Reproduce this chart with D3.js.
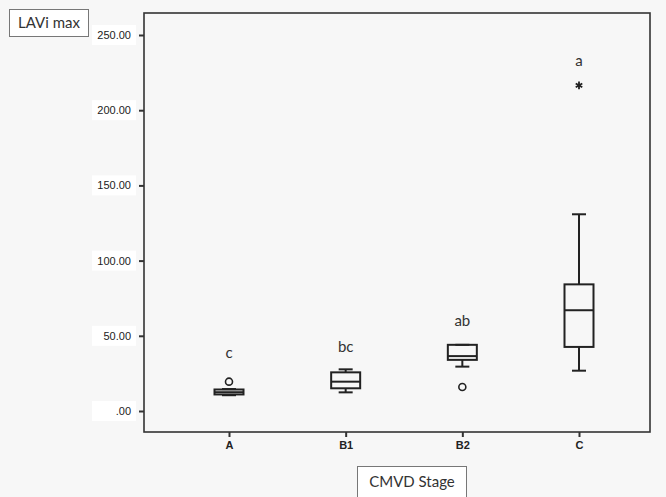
<!DOCTYPE html>
<html><head><meta charset="utf-8">
<script src="https://cdn.jsdelivr.net/npm/d3@7"></script>
<style>
html,body{margin:0;padding:0;background:#f7f7f7;}
svg{display:block;}
</style></head>
<body>
<svg id="chart" width="666" height="497"></svg>
<script>
// ---- data ----
const categories = ["A", "B1", "B2", "C"];
const whiskerLow  = [10.5, 12.4, 29.5, 26.8];
const q1Values    = [11.0, 15.1, 34.0, 42.6];
const medians     = [12.5, 19.5, 36.5, 67.0];
const q3Values    = [14.3, 25.7, 44.0, 84.2];
const whiskerHigh = [14.6, 27.7, 44.0, 130.8];
const outliers    = [{cat: "A", v: 19.5, type: "circle"}, {cat: "B2", v: 16.0, type: "circle"}, {cat: "C", v: 216.5, type: "star"}];
const groupLetters = ["c", "bc", "ab", "a"];
const letterValues = [37.5, 42, 59, 232];
const yTicks = [0, 50, 100, 150, 200, 250];
const yTickLabels = [".00", "50.00", "100.00", "150.00", "200.00", "250.00"];
const yTitle = "LAVi max";
const xTitle = "CMVD Stage";

// ---- layout ----
const svg = d3.select("#chart");
const frame = {left: 144, top: 13, right: 650, bottom: 432};
const y = d3.scaleLinear().domain([0, 250]).range([411, 35]);
const x = d3.scalePoint().domain(categories).range([frame.left + 85, frame.right - 71]);
const ink = "#222";
const boxW = 29, capW = 14;

// white patches behind y tick labels
svg.append("g").selectAll("rect").data(yTicks).join("rect")
  .attr("x", 92).attr("y", d => y(d) - 10).attr("width", 44).attr("height", 20)
  .attr("fill", "#ffffff");

// frame
svg.append("rect").attr("x", frame.left).attr("y", frame.top)
  .attr("width", frame.right - frame.left).attr("height", frame.bottom - frame.top)
  .attr("fill", "#f7f7f7").attr("stroke", "#333").attr("stroke-width", 1.6);

// y axis
const yAxis = d3.axisLeft(y).tickValues(yTicks).tickSize(5).tickPadding(8)
  .tickFormat((d, i) => yTickLabels[i]);
const gy = svg.append("g").attr("transform", `translate(${frame.left},0)`).call(yAxis);
gy.select(".domain").remove();
gy.selectAll(".tick line").attr("stroke", "#333").attr("stroke-width", 2);
gy.selectAll(".tick text").attr("fill", ink).style("font-family", "Arial, 'Liberation Sans', sans-serif").style("font-size", "11px");

// x axis
const xAxis = d3.axisBottom(x).tickSize(5).tickPadding(4);
const gx = svg.append("g").attr("transform", `translate(0,${frame.bottom})`).call(xAxis);
gx.select(".domain").remove();
gx.selectAll(".tick line").attr("stroke", "#333").attr("stroke-width", 2);
gx.selectAll(".tick text").attr("fill", ink).style("font-family", "Arial, 'Liberation Sans', sans-serif")
  .style("font-size", "11px").style("font-weight", "bold");

// boxes
const boxes = categories.map((c, i) => ({c, lo: whiskerLow[i], q1: q1Values[i], med: medians[i], q3: q3Values[i], hi: whiskerHigh[i]}));
const g = svg.append("g").attr("stroke", ink).attr("stroke-width", 2).attr("fill", "none");
const bg = g.selectAll("g").data(boxes).join("g");
bg.append("line").attr("x1", d => x(d.c)).attr("x2", d => x(d.c)).attr("y1", d => y(d.hi)).attr("y2", d => y(d.q3));
bg.append("line").attr("x1", d => x(d.c)).attr("x2", d => x(d.c)).attr("y1", d => y(d.q1)).attr("y2", d => y(d.lo));
bg.append("line").attr("x1", d => x(d.c) - capW/2).attr("x2", d => x(d.c) + capW/2).attr("y1", d => y(d.hi)).attr("y2", d => y(d.hi));
bg.append("line").attr("x1", d => x(d.c) - capW/2).attr("x2", d => x(d.c) + capW/2).attr("y1", d => y(d.lo)).attr("y2", d => y(d.lo));
bg.append("rect").attr("x", d => x(d.c) - boxW/2).attr("width", boxW)
  .attr("y", d => y(d.q3)).attr("height", d => y(d.q1) - y(d.q3));
bg.append("line").attr("x1", d => x(d.c) - boxW/2).attr("x2", d => x(d.c) + boxW/2).attr("y1", d => y(d.med)).attr("y2", d => y(d.med));

// outliers
svg.append("g").selectAll("circle").data(outliers.filter(o => o.type === "circle")).join("circle")
  .attr("cx", d => x(d.cat)).attr("cy", d => y(d.v)).attr("r", 3.5)
  .attr("fill", "none").attr("stroke", ink).attr("stroke-width", 1.6);
svg.append("g").selectAll("path").data(outliers.filter(o => o.type === "star")).join("path")
  .attr("transform", d => `translate(${x(d.cat)},${y(d.v)})`)
  .attr("d", d3.symbol(d3.symbolAsterisk, 40)).attr("stroke", ink).attr("stroke-width", 1.8).attr("fill", "none");

// group letters
svg.append("g").selectAll("text").data(categories).join("text")
  .attr("x", d => x(d)).attr("y", (d, i) => y(letterValues[i]))
  .attr("text-anchor", "middle").attr("dominant-baseline", "middle")
  .attr("fill", "#333").style("font-family", "Lato, 'Open Sans', sans-serif").style("font-size", "15px")
  .text((d, i) => groupLetters[i]);

// y title box
svg.append("rect").attr("x", 9.5).attr("y", 9.5).attr("width", 79).attr("height", 27)
  .attr("fill", "#fff").attr("stroke", "#777").attr("stroke-width", 1);
svg.append("text").attr("x", 49).attr("y", 28).attr("text-anchor", "middle")
  .attr("fill", "#333").style("font-family", "Lato, 'Open Sans', sans-serif").style("font-size", "15px").text(yTitle);

// x title box
svg.append("rect").attr("x", 357.5).attr("y", 466.5).attr("width", 109).attr("height", 40)
  .attr("fill", "#fff").attr("stroke", "#777").attr("stroke-width", 1);
svg.append("text").attr("x", 412).attr("y", 487).attr("text-anchor", "middle")
  .attr("fill", "#333").style("font-family", "Lato, 'Open Sans', sans-serif").style("font-size", "15px").text(xTitle);
</script>
</body></html>
